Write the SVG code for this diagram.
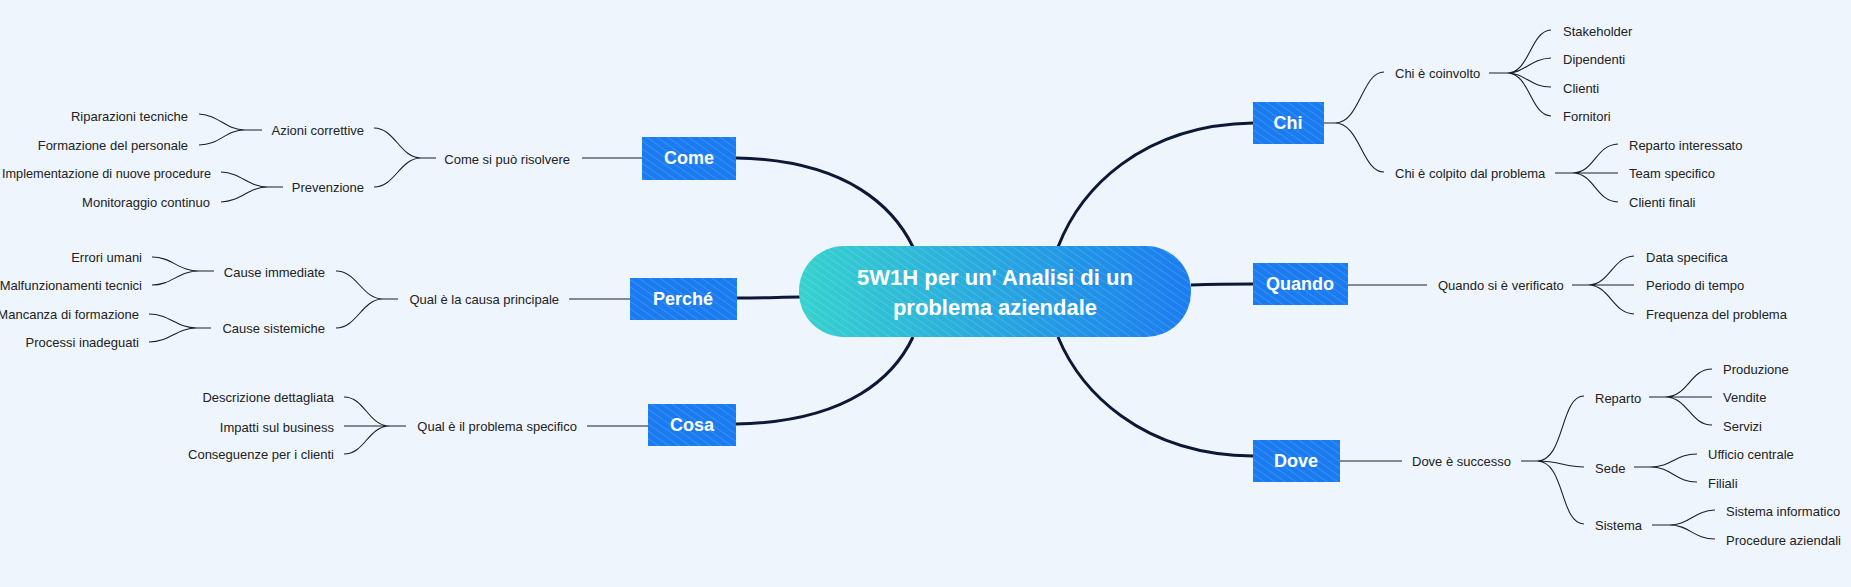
<svg xmlns="http://www.w3.org/2000/svg" width="1851" height="587" viewBox="0 0 1851 587">
<defs>
<pattern id="hatch" width="6" height="6" patternUnits="userSpaceOnUse" patternTransform="rotate(-55)">
<line x1="0" y1="0" x2="0" y2="6" stroke="#ffffff" stroke-opacity="0.28" stroke-width="1"/>
</pattern>
<linearGradient id="cg" x1="0" y1="0" x2="1" y2="0">
<stop offset="0" stop-color="#36d2cf"/>
<stop offset="1" stop-color="#1a7cf0"/>
</linearGradient>
<style>
.bg{fill:#eef5fd}
.node{fill:#1a7cf0}
.hat{fill:url(#hatch)}
.nt{font-family:"Liberation Sans",Arial,sans-serif;font-weight:bold;font-size:18px;fill:#fff;text-anchor:middle;dominant-baseline:central}
.ct{font-family:"Liberation Sans",Arial,sans-serif;font-weight:bold;font-size:22px;fill:#fff;text-anchor:middle;dominant-baseline:central}
.l{font-family:"Liberation Sans",Arial,sans-serif;font-size:13px;fill:#222;dominant-baseline:central}
.e{text-anchor:end}
.main{fill:none;stroke:#0d1836;stroke-width:3}
.thin{fill:none;stroke:#1a1f2e;stroke-width:1.1}
</style>
</defs>
<rect class="bg" width="1851" height="587"/>
<g id="connectors">
<path class="main" d="M736,158 C850,160 895,210 913,247"/>
<path class="main" d="M737,298 C770,298 780,297 800,297"/>
<path class="main" d="M736,424 C850,422 895,375 913,337"/>
<path class="main" d="M1253,123 C1140,125 1080,190 1058,247"/>
<path class="main" d="M1191,285 C1220,284 1235,284 1253,284"/>
<path class="main" d="M1253,456 C1140,455 1080,390 1058,337"/>
<path class="thin" d="M582,158 H642 M436,158 H421 C400,158 395,128 374,128 M421,158 C400,158 395,187 374,187"/>
<path class="thin" d="M262,130 H245 C225,130 220,115 199,114 M245,130 C225,130 220,145 199,145"/>
<path class="thin" d="M283,187 H268 C248,187 242,173 221,172 M268,187 C248,187 242,201 221,202"/>
<path class="thin" d="M569,299 H630 M398,299 H383 C362,299 357,271 336,271 M383,299 C362,299 357,328 336,328"/>
<path class="thin" d="M214,271 H199 C178,271 172,257 152,257 M199,271 C178,271 172,285 152,285"/>
<path class="thin" d="M211,328 H197 C176,328 170,314 149,314 M197,328 C176,328 170,342 149,342"/>
<path class="thin" d="M587,426 H648 M406,426 H390 C368,426 365,397 344,397 M390,426 H344 M390,426 C368,426 365,454 344,454"/>
<path class="thin" d="M1324,123 H1335 C1360,123 1362,72 1384,72 M1335,123 C1360,123 1362,172 1384,172"/>
<path class="thin" d="M1489,73 H1507 C1530,73 1530,31 1551,30 M1507,73 C1525,73 1530,59 1551,58 M1507,73 C1525,73 1530,87 1551,87 M1507,73 C1530,73 1530,115 1551,116"/>
<path class="thin" d="M1555,173 H1572 C1595,173 1595,145 1618,144 M1572,173 H1618 M1572,173 C1595,173 1595,201 1618,202"/>
<path class="thin" d="M1348,285 H1427 M1572,285 H1588 C1610,285 1612,257 1634,256 M1588,285 H1634 M1588,285 C1610,285 1612,313 1634,314"/>
<path class="thin" d="M1340,461 H1402 M1521,461 H1537 C1565,461 1560,396 1584,396 M1537,461 C1560,461 1565,467 1584,467 M1537,461 C1565,461 1560,524 1584,524"/>
<path class="thin" d="M1649,397 H1665 C1688,397 1690,369 1712,369 M1665,397 H1712 M1665,397 C1688,397 1690,425 1712,425"/>
<path class="thin" d="M1634,467 H1650 C1672,467 1675,454 1697,454 M1650,467 C1672,467 1675,482 1697,482"/>
<path class="thin" d="M1652,525 H1669 C1690,525 1693,511 1715,510 M1669,525 C1690,525 1693,539 1715,539"/>
</g>
<g id="center">
<rect x="799" y="246" width="392" height="91" rx="45" fill="url(#cg)"/>
<rect class="hat" x="799" y="246" width="392" height="91" rx="45"/>
<text class="ct" x="995" y="277">5W1H per un' Analisi di un</text>
<text class="ct" x="995" y="307">problema aziendale</text>
</g>
<g id="come"><rect class="node" x="642" y="137" width="94" height="43"/><rect class="hat" x="642" y="137" width="94" height="43"/><text class="nt" x="689" y="158">Come</text></g>
<g id="perche"><rect class="node" x="630" y="278" width="107" height="42"/><rect class="hat" x="630" y="278" width="107" height="42"/><text class="nt" x="683" y="299">Perché</text></g>
<g id="cosa"><rect class="node" x="648" y="404" width="88" height="42"/><rect class="hat" x="648" y="404" width="88" height="42"/><text class="nt" x="692" y="425">Cosa</text></g>
<g id="chi"><rect class="node" x="1253" y="102" width="71" height="42"/><rect class="hat" x="1253" y="102" width="71" height="42"/><text class="nt" x="1288" y="123">Chi</text></g>
<g id="quando"><rect class="node" x="1253" y="263" width="95" height="42"/><rect class="hat" x="1253" y="263" width="95" height="42"/><text class="nt" x="1300" y="284">Quando</text></g>
<g id="dove"><rect class="node" x="1253" y="440" width="87" height="42"/><rect class="hat" x="1253" y="440" width="87" height="42"/><text class="nt" x="1296" y="461">Dove</text></g>
<g id="labels-left">
<text class="l e" x="570" y="159">Come si può risolvere</text>
<text class="l e" x="364" y="130">Azioni correttive</text>
<text class="l e" x="364" y="187">Prevenzione</text>
<text class="l e" x="188" y="116">Riparazioni tecniche</text>
<text class="l e" x="188" y="145">Formazione del personale</text>
<text class="l e" x="211" y="173" textLength="209" lengthAdjust="spacingAndGlyphs">Implementazione di nuove procedure</text>
<text class="l e" x="210" y="202">Monitoraggio continuo</text>
<text class="l e" x="559" y="299">Qual è la causa principale</text>
<text class="l e" x="325" y="272">Cause immediate</text>
<text class="l e" x="325" y="328">Cause sistemiche</text>
<text class="l e" x="142" y="257">Errori umani</text>
<text class="l e" x="142" y="285">Malfunzionamenti tecnici</text>
<text class="l e" x="139" y="314">Mancanza di formazione</text>
<text class="l e" x="139" y="342">Processi inadeguati</text>
<text class="l e" x="577" y="426">Qual è il problema specifico</text>
<text class="l e" x="334" y="397">Descrizione dettagliata</text>
<text class="l e" x="334" y="427">Impatti sul business</text>
<text class="l e" x="334" y="454">Conseguenze per i clienti</text>
</g>
<g id="labels-right">
<text class="l" x="1395" y="73">Chi è coinvolto</text>
<text class="l" x="1395" y="173">Chi è colpito dal problema</text>
<text class="l" x="1563" y="31">Stakeholder</text>
<text class="l" x="1563" y="59">Dipendenti</text>
<text class="l" x="1563" y="88">Clienti</text>
<text class="l" x="1563" y="116">Fornitori</text>
<text class="l" x="1629" y="145">Reparto interessato</text>
<text class="l" x="1629" y="173">Team specifico</text>
<text class="l" x="1629" y="202">Clienti finali</text>
<text class="l" x="1438" y="285">Quando si è verificato</text>
<text class="l" x="1646" y="257">Data specifica</text>
<text class="l" x="1646" y="285">Periodo di tempo</text>
<text class="l" x="1646" y="314">Frequenza del problema</text>
<text class="l" x="1412" y="461">Dove è successo</text>
<text class="l" x="1595" y="398">Reparto</text>
<text class="l" x="1595" y="468">Sede</text>
<text class="l" x="1595" y="525">Sistema</text>
<text class="l" x="1723" y="369">Produzione</text>
<text class="l" x="1723" y="397">Vendite</text>
<text class="l" x="1723" y="426">Servizi</text>
<text class="l" x="1708" y="454">Ufficio centrale</text>
<text class="l" x="1708" y="483">Filiali</text>
<text class="l" x="1726" y="511">Sistema informatico</text>
<text class="l" x="1726" y="540">Procedure aziendali</text>
</g>
</svg>
